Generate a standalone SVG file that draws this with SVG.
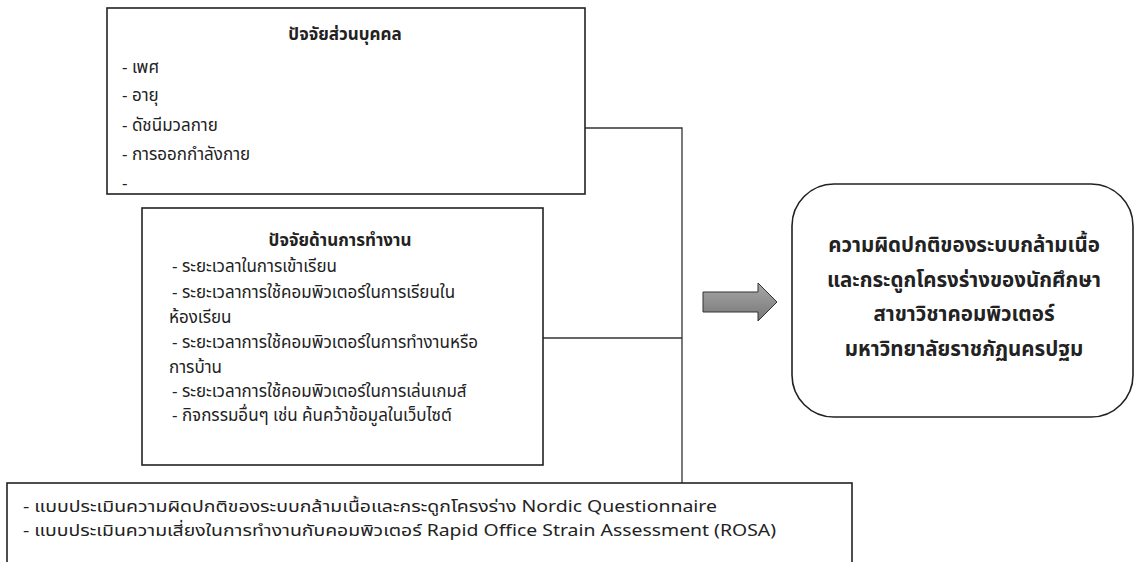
<svg xmlns="http://www.w3.org/2000/svg" width="1135" height="562" viewBox="0 0 1135 562">
<style>
.box{fill:#fff;stroke:#222;stroke-width:1.6}
.t{font-family:'Noto Sans Thai','Noto Sans','DejaVu Sans',sans-serif;font-size:17px;fill:#222}
.b{font-weight:bold;font-size:17px}
.s{font-size:16px}
.big{font-family:'Noto Sans Thai','Noto Sans','DejaVu Sans',sans-serif;font-size:20.5px;font-weight:bold;fill:#222;text-anchor:middle}
.c{fill:none;stroke:#333;stroke-width:1.3}
</style>
<defs>
<linearGradient id="g" x1="0" y1="0" x2="0" y2="1">
<stop offset="0" stop-color="#a8a8a8"/>
<stop offset="1" stop-color="#777"/>
</linearGradient>
</defs>
<g id="connectors">
<polyline class="c" points="585,128 682,128 682,483"/>
<line class="c" x1="543" y1="338" x2="682" y2="338"/>
</g>
<g id="personal">
<rect class="box" x="107" y="8" width="478" height="186"/>
<text class="t b" x="345" y="40" text-anchor="middle">ปัจจัยส่วนบุคคล</text>
<text class="t" x="122" y="73">- เพศ</text>
<text class="t" x="122" y="101">- อายุ</text>
<text class="t" x="122" y="131">- ดัชนีมวลกาย</text>
<text class="t" x="122" y="160">- การออกกำลังกาย</text>
<text class="t" x="122" y="189">-</text>
</g>
<g id="work">
<rect class="box" x="142" y="208" width="401" height="257"/>
<text class="t b" x="340" y="246" text-anchor="middle">ปัจจัยด้านการทำงาน</text>
<text class="t" x="172" y="272">- ระยะเวลาในการเข้าเรียน</text>
<text class="t" x="172" y="298">- ระยะเวลาการใช้คอมพิวเตอร์ในการเรียนใน</text>
<text class="t" x="169" y="323">ห้องเรียน</text>
<text class="t" x="172" y="348">- ระยะเวลาการใช้คอมพิวเตอร์ในการทำงานหรือ</text>
<text class="t" x="169" y="373">การบ้าน</text>
<text class="t" x="172" y="397">- ระยะเวลาการใช้คอมพิวเตอร์ในการเล่นเกมส์</text>
<text class="t" x="172" y="421">- กิจกรรมอื่นๆ เช่น ค้นคว้าข้อมูลในเว็บไซต์</text>
</g>
<g id="tools">
<rect class="box" x="7" y="483" width="845" height="90"/>
<text class="t s" x="23" y="512" textLength="694" lengthAdjust="spacingAndGlyphs">- แบบประเมินความผิดปกติของระบบกล้ามเนื้อและกระดูกโครงร่าง Nordic Questionnaire</text>
<text class="t s" x="23" y="536" textLength="753" lengthAdjust="spacingAndGlyphs">- แบบประเมินความเสี่ยงในการทำงานกับคอมพิวเตอร์ Rapid Office Strain Assessment (ROSA)</text>
</g>
<g id="arrow">
<polygon points="703,292 758,292 758,283 777,302 758,321 758,312 703,312" fill="url(#g)" stroke="#333" stroke-width="1"/>
</g>
<g id="outcome">
<rect class="box" x="792" y="184" width="341" height="233" rx="42" ry="42"/>
<text class="big" x="964" y="252">ความผิดปกติของระบบกล้ามเนื้อ</text>
<text class="big" x="964" y="287">และกระดูกโครงร่างของนักศึกษา</text>
<text class="big" x="964" y="321">สาขาวิชาคอมพิวเตอร์</text>
<text class="big" x="964" y="356">มหาวิทยาลัยราชภัฏนครปฐม</text>
</g>
</svg>
